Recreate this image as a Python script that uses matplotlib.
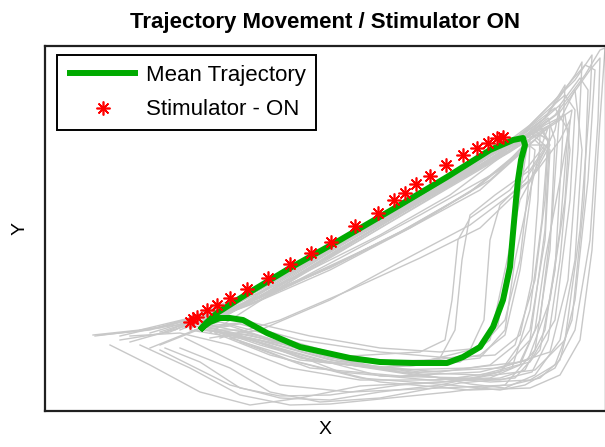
import matplotlib
matplotlib.use("Agg")
import matplotlib.pyplot as plt

plt.rcParams["font.family"] = ["Liberation Sans", "DejaVu Sans"]

# coordinates (pixel units, y down)
MEAN_X = [200, 205, 217, 250, 290, 340, 400, 447, 490, 513, 523, 525, 521, 518, 516, 513, 510,
          503, 493, 480, 463, 447, 413, 380, 350, 300, 267, 243, 230, 220, 210, 203, 200]
MEAN_Y = [330, 324, 313, 292, 268, 240, 205, 177, 150, 140, 138, 145, 160, 180, 200, 233, 267,
          300, 327, 347, 357, 363, 363, 362, 358, 347, 333, 320, 318, 318, 322, 327, 330]

STIM_X = [190, 193, 197, 207, 217, 230, 247, 268, 290, 311, 331, 355, 378, 394, 405, 416,
          430, 446, 463, 477, 488, 497, 503]
STIM_Y = [322, 319, 317, 310, 305, 298, 289, 278, 264, 253, 242, 226, 213, 200, 193, 184,
          176, 165, 155, 148, 143, 138, 137]

# individual trials (grey)
TRIALS_X = [
    [150, 200, 260, 330, 400, 470, 520, 535, 530, 520, 505, 480, 420, 340, 270, 220, 190],
    [120, 180, 250, 320, 390, 460, 530, 548, 545, 535, 515, 490, 440, 360, 280, 230, 200],
    [95, 160, 220, 290, 370, 450, 520, 565, 575, 570, 555, 530, 480, 400, 310, 240, 195],
    [180, 240, 310, 390, 470, 530, 575, 592, 590, 580, 565, 535, 470, 380, 290, 230],
    [200, 270, 350, 430, 500, 545, 575, 582, 578, 568, 550, 500, 420, 330, 250, 205],
    [165, 230, 300, 380, 450, 510, 528, 522, 510, 498, 470, 400, 320, 250, 200],
    [160, 210, 280, 360, 440, 510, 540, 548, 542, 530, 512, 470, 400, 330, 280, 240, 200, 165],
    [130, 190, 260, 330, 410, 490, 545, 565, 562, 555, 540, 515, 460, 380, 320, 270, 230, 180],
    [190, 260, 340, 420, 490, 540, 550, 530, 495, 470, 462, 455, 440, 380, 300, 230],
    [185, 250, 330, 410, 480, 535, 545, 525, 500, 490, 484, 470, 430, 340, 260, 210],
    [200, 280, 360, 440, 510, 560, 590, 600, 598, 590, 575, 555, 525, 500, 450, 360, 270, 215],
    [210, 260, 330, 400, 470, 530, 560, 570, 565, 550, 528, 480, 400, 310, 240],
    [100, 150, 210, 270, 340, 420, 500, 555, 568, 560, 545, 525, 500, 440, 360, 300, 250, 200, 150, 110],
    [170, 220, 290, 370, 450, 520, 555, 585, 595, 588, 575, 560, 540, 510, 440, 350, 280, 230, 185],
    [140, 200, 260, 340, 420, 500, 540, 550, 520, 505, 490, 460, 380, 300, 240, 200],
    [210, 280, 360, 440, 510, 550, 572, 560, 545, 535, 520, 490, 430, 340, 270, 220],
    [150, 200, 250, 320, 400, 480, 530, 550, 545, 530, 500, 440, 380, 330, 280, 230, 190, 160],
    [200, 260, 330, 410, 490, 530, 560, 575, 582, 575, 560, 535, 505, 470, 400, 320, 260, 215],
    [190, 250, 320, 400, 470, 515, 530, 528, 520, 505, 480, 440, 380, 310, 250, 205],
    [175, 240, 320, 400, 480, 525, 540, 538, 532, 520, 495, 450, 380, 300, 240, 200],
    [220, 280, 350, 420, 480, 530, 555, 560, 552, 540, 520, 470, 390, 310, 250],
    [180, 250, 330, 410, 480, 530, 545, 510, 470, 458, 452, 445, 420, 350, 270, 215],
    [190, 260, 340, 420, 500, 555, 585, 600, 605, 600, 592, 580, 560, 530, 470, 380, 290, 220],
    [160, 220, 300, 380, 460, 520, 560, 580, 588, 584, 572, 555, 530, 490, 420, 330, 250, 190],
    [120, 170, 230, 300, 380, 460, 520, 548, 555, 550, 535, 505, 450, 390, 330, 290, 240, 190, 140],
    [205, 270, 340, 420, 500, 545, 565, 570, 560, 548, 532, 500, 440, 360, 280, 220],
    [185, 240, 310, 390, 470, 525, 548, 540, 528, 515, 505, 480, 410, 330, 260, 205],
    [93, 140, 190, 240, 310, 390, 470, 530, 550, 545, 530, 500, 440, 360, 290, 230, 180, 130],
]
TRIALS_Y = [
    [333, 318, 290, 250, 210, 168, 138, 150, 200, 270, 335, 355, 365, 355, 335, 322, 328],
    [336, 322, 292, 255, 215, 175, 128, 140, 200, 280, 345, 365, 372, 365, 342, 326, 330],
    [336, 328, 310, 272, 228, 180, 135, 95, 110, 200, 320, 362, 375, 372, 352, 330, 330],
    [326, 305, 262, 218, 170, 125, 80, 55, 100, 230, 340, 370, 378, 376, 352, 333],
    [330, 290, 240, 195, 150, 118, 75, 62, 150, 280, 352, 368, 372, 360, 338, 330],
    [332, 305, 275, 235, 195, 150, 140, 180, 250, 325, 355, 365, 355, 335, 330],
    [345, 325, 285, 240, 192, 150, 125, 140, 220, 310, 368, 380, 385, 395, 396, 388, 362, 348],
    [342, 325, 298, 255, 208, 160, 118, 85, 150, 270, 350, 378, 383, 398, 402, 392, 368, 348],
    [327, 300, 262, 222, 180, 135, 140, 170, 195, 215, 260, 330, 358, 368, 360, 338],
    [328, 305, 270, 228, 185, 140, 150, 180, 205, 240, 320, 350, 360, 362, 340, 330],
    [330, 285, 238, 190, 150, 112, 70, 58, 120, 240, 330, 368, 385, 390, 385, 378, 355, 333],
    [338, 330, 300, 262, 225, 180, 140, 120, 200, 300, 360, 372, 376, 368, 342],
    [335, 330, 312, 282, 242, 196, 150, 108, 130, 230, 330, 370, 378, 382, 386, 398, 405, 392, 365, 345],
    [325, 312, 270, 225, 178, 135, 100, 65, 70, 180, 300, 360, 378, 385, 388, 392, 385, 360, 338],
    [330, 322, 300, 258, 215, 170, 128, 145, 200, 270, 340, 362, 368, 358, 335, 325],
    [333, 288, 240, 193, 152, 125, 110, 180, 260, 330, 365, 378, 380, 372, 345, 332],
    [348, 328, 300, 258, 210, 165, 132, 150, 240, 330, 372, 385, 392, 400, 398, 385, 365, 350],
    [325, 300, 256, 208, 162, 140, 120, 90, 150, 260, 340, 375, 388, 384, 370, 362, 345, 330],
    [326, 302, 272, 232, 192, 155, 140, 190, 260, 320, 348, 352, 348, 336, 322, 326],
    [330, 300, 256, 212, 167, 138, 135, 200, 280, 335, 355, 358, 352, 340, 324, 328],
    [338, 320, 290, 258, 228, 180, 130, 105, 220, 320, 362, 368, 370, 360, 340],
    [330, 300, 268, 228, 190, 145, 145, 190, 218, 240, 300, 340, 352, 356, 342, 332],
    [328, 292, 245, 198, 155, 115, 75, 50, 48, 120, 250, 340, 375, 388, 390, 382, 360, 333],
    [332, 312, 265, 222, 177, 140, 105, 78, 90, 200, 320, 365, 380, 382, 376, 362, 340, 330],
    [340, 332, 305, 265, 220, 178, 140, 118, 140, 250, 350, 385, 392, 398, 404, 405, 395, 368, 345],
    [326, 292, 248, 202, 157, 125, 115, 150, 260, 340, 372, 380, 378, 366, 342, 330],
    [322, 305, 275, 238, 192, 148, 128, 150, 200, 260, 330, 358, 366, 358, 336, 324],
    [335, 330, 318, 300, 262, 218, 172, 135, 125, 230, 340, 372, 380, 380, 368, 345, 333, 336],
]

W, H = 605, 447
fig = plt.figure(figsize=(W / 100, H / 100), dpi=100)
ax = fig.add_axes([45 / W, (H - 411) / H, (606 - 45) / W, (411 - 46) / H])

for tx, ty in zip(TRIALS_X, TRIALS_Y):
    ax.plot(tx, ty, color="#c8c8c8", lw=1.0, zorder=1)

ax.plot(MEAN_X, MEAN_Y, color="#00aa00", lw=4.3, solid_capstyle="butt",
        label="Mean Trajectory", zorder=2)
ax.plot(STIM_X, STIM_Y, ls="none", marker=(8, 2, 0), ms=10, mew=1.2,
        color="red", label="Stimulator - ON", zorder=3)

ax.set_xlim(45, 606)
ax.set_ylim(411, 46)
ax.set_xticks([])
ax.set_yticks([])
for s in ax.spines.values():
    s.set_color("#202020")
    s.set_linewidth(1.6)

ax.set_title("Trajectory Movement / Stimulator ON", fontsize=16, fontweight="bold", pad=13)
ax.set_xlabel("X", fontsize=14, labelpad=7)
ax.set_ylabel("Y", fontsize=14, labelpad=12)

leg = ax.legend(loc="upper left", bbox_to_anchor=(12 / 561, 1 - 9 / 365), fontsize=16,
                frameon=True, fancybox=False, framealpha=1, edgecolor="black",
                handlelength=3.2, handletextpad=0.35, borderpad=0.45, labelspacing=0.6,
                borderaxespad=0)
leg.get_frame().set_linewidth(1.4)

fig.savefig("out.png", dpi=100, facecolor="white")
